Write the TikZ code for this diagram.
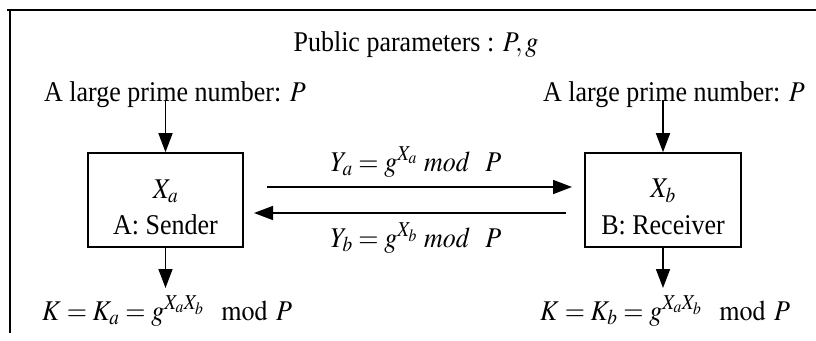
\documentclass[tikz,border=0pt]{standalone}
\usepackage{mathptmx}
\usepackage{fontspec}
\setmainfont{Liberation Serif}
\usetikzlibrary{arrows.meta}
\newcommand{\tallt}[1]{\scalebox{1}[1.1]{#1}}
\begin{document}
\begin{tikzpicture}[x=1pt,y=-1pt,
  txt/.style={inner sep=0pt,font=\fontsize{26}{30}\selectfont},
  boxst/.style={draw,line width=1.6pt,minimum width=155pt,minimum height=94pt,inner sep=0pt},
  arr/.style={line width=1.6pt,-{Triangle[length=19pt,width=14pt]}},
  frame/.style={line width=1.4pt}]
\useasboundingbox (0,0) rectangle (816,340);
\draw[frame] (7,10) -- (816,10);
\draw[frame] (10,10) -- (10,333);
\node[txt] (pub) at (416,45) {\tallt{Public parameters : $P, g$}};
\node[txt] (pl) at (175,95) {\tallt{A large prime number: $P$}};
\node[txt] (pr) at (674,95) {\tallt{A large prime number: $P$}};
\node[boxst] (boxA) at (165.5,200) {};
\node[boxst,minimum width=156pt] (boxB) at (663,200) {};
\node[txt] (xa) at (165.5,191) {\tallt{$X_a$}};
\node[txt] (sa) at (165.5,225) {\tallt{A: Sender}};
\node[txt] (xb) at (663,191) {\tallt{$X_b$}};
\node[txt] (sb) at (663,225) {\tallt{B: Receiver}};
\node[txt,anchor=west] (ka) at (42,311) {\tallt{$K = K_a = g^{X_a X_b}\;\;\; \mathrm{mod}\;\, P$}};
\node[txt,anchor=west] (kb) at (540,311) {\tallt{$K = K_b = g^{X_a X_b}\;\;\; \mathrm{mod}\;\, P$}};
\node[txt] (ya) at (416,162) {\tallt{$Y_a = g^{X_a}\ \mathit{mod}\ \ \,P$}};
\node[txt] (yb) at (416,238) {\tallt{$Y_b = g^{X_b}\ \mathit{mod}\ \ \,P$}};
\coordinate (a1) at (267,187);
\coordinate (a2) at (572,187);
\coordinate (b1) at (566,213);
\coordinate (b2) at (254,213);
\coordinate (ea) at (165.5,288);
\coordinate (eb) at (663,288);
\draw[arr] (a1) -- (a2);
\draw[arr] (b1) -- (b2);
\draw[arr] ([yshift=8pt]pl.south -| boxA.north) -- (boxA.north);
\draw[arr] ([yshift=8pt]pr.south -| boxB.north) -- (boxB.north);
\draw[arr] (boxA.south) -- (ea);
\draw[arr] (boxB.south) -- (eb);
\end{tikzpicture}
\end{document}
